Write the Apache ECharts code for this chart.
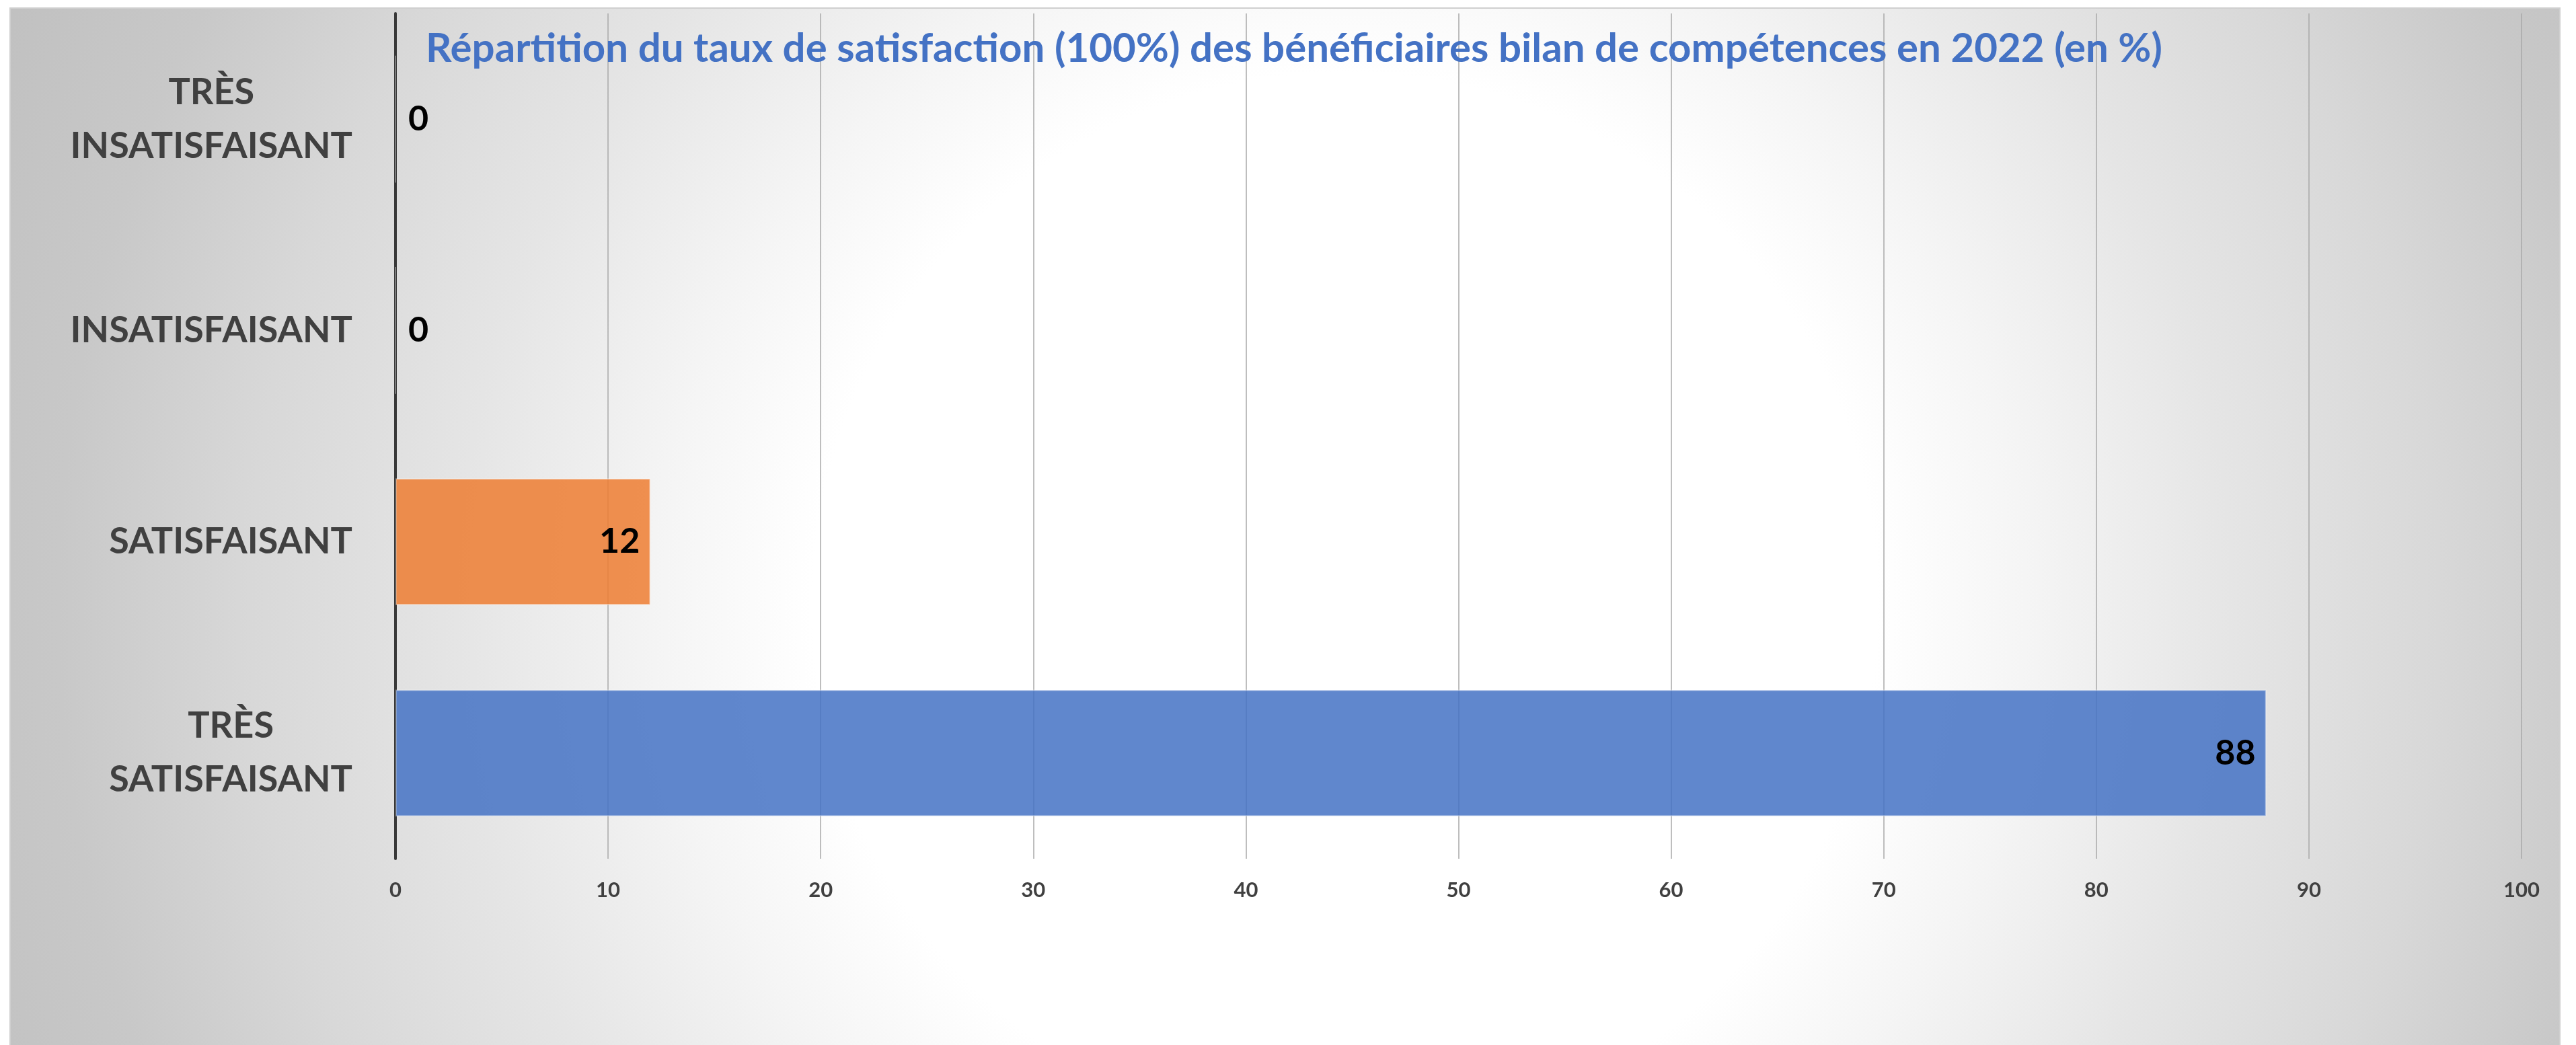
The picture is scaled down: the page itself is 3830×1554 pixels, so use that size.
<!DOCTYPE html>
<html>
<head>
<meta charset="utf-8">
<title>Répartition du taux de satisfaction</title>
<script src="https://cdn.jsdelivr.net/npm/echarts@6/dist/echarts.min.js"></script>
<style>
  html, body { margin: 0; padding: 0; background: #ffffff; }
  #chart { width: 3830px; height: 1554px; }
</style>
</head>
<body>
<div id="chart"></div>
<script>
// données
const categories = ['TRÈS\nINSATISFAISANT', 'INSATISFAISANT', 'SATISFAISANT', 'TRÈS\nSATISFAISANT']
const values = [0, 0, 12, 88]
const xTicks = { min: 0, max: 100, interval: 10 }
const titleText = 'Répartition du taux de satisfaction (100%) des bénéficiaires bilan de compétences en 2022 (en %)'

// couleurs des barres (style)
const barColors = [
  'rgba(237, 125, 49, 0.85)',
  'rgba(237, 125, 49, 0.85)',
  'rgba(237, 125, 49, 0.85)',
  'rgba(68, 114, 196, 0.85)'
]

const chart = echarts.init(document.getElementById('chart'))

const seriesData = values.map((v, i) => ({
  value: v,
  itemStyle: { color: barColors[i] },
  label: v === 0 ? { position: 'right', distance: 18 } : { position: 'insideRight', distance: 16 }
}))

const option = {
  animation: false,
  textStyle: { fontFamily: 'Lato' },
  graphic: [
    {
      type: 'rect',
      z: -10,
      silent: true,
      shape: { x: 15, y: 12, width: 3791, height: 1560 },
      style: {
        fill: {
          type: 'radial',
          x: 2000,
          y: 900,
          r: 2200,
          global: true,
          colorStops: [
            { offset: 0, color: '#ffffff' },
            { offset: 0.36, color: '#ffffff' },
            { offset: 0.46, color: '#f5f5f5' },
            { offset: 0.6, color: '#e5e5e5' },
            { offset: 0.74, color: '#d8d8d8' },
            { offset: 0.87, color: '#c8c8c8' },
            { offset: 1, color: '#c0c0c0' }
          ]
        },
        stroke: '#cfcfcf',
        lineWidth: 2
      }
    }
  ],
  title: {
    text: titleText,
    left: 628,
    top: 38,
    textStyle: {
      fontFamily: 'Lato',
      fontWeight: 'bold',
      fontSize: 60,
      color: '#4472C4'
    }
  },
  grid: {
    left: 588,
    right: 81,
    top: 20,
    bottom: 277
  },
  xAxis: {
    type: 'value',
    min: xTicks.min,
    max: xTicks.max,
    interval: xTicks.interval,
    axisLine: { show: false },
    axisTick: { show: false },
    splitLine: { lineStyle: { color: '#a8a8a8', width: 1.5 } },
    axisLabel: {
      margin: 31,
      fontFamily: 'Lato',
      fontWeight: 'bold',
      fontSize: 31,
      color: '#404040'
    }
  },
  yAxis: {
    type: 'category',
    inverse: true,
    data: categories,
    axisLine: { show: true, lineStyle: { color: '#383838', width: 4 } },
    axisTick: { show: false },
    axisLabel: {
      margin: 64,
      align: 'right',
      formatter: (v) => v.split('\n').map(s => '{a|' + s + '}').join('\n'),
      rich: {
        a: {
          align: 'center',
          fontFamily: 'Lato',
          fontWeight: 'bold',
          fontSize: 54,
          lineHeight: 80,
          color: '#404040'
        }
      }
    }
  },
  series: [
    {
      type: 'bar',
      data: seriesData,
      barCategoryGap: '40%',
      itemStyle: { borderColor: 'rgba(255,255,255,0.35)', borderWidth: 2 },
      label: {
        show: true,
        fontFamily: 'Lato',
        fontWeight: 'bold',
        fontSize: 52,
        color: '#000000'
      }
    }
  ]
}

chart.setOption(option)
</script>
</body>
</html>
